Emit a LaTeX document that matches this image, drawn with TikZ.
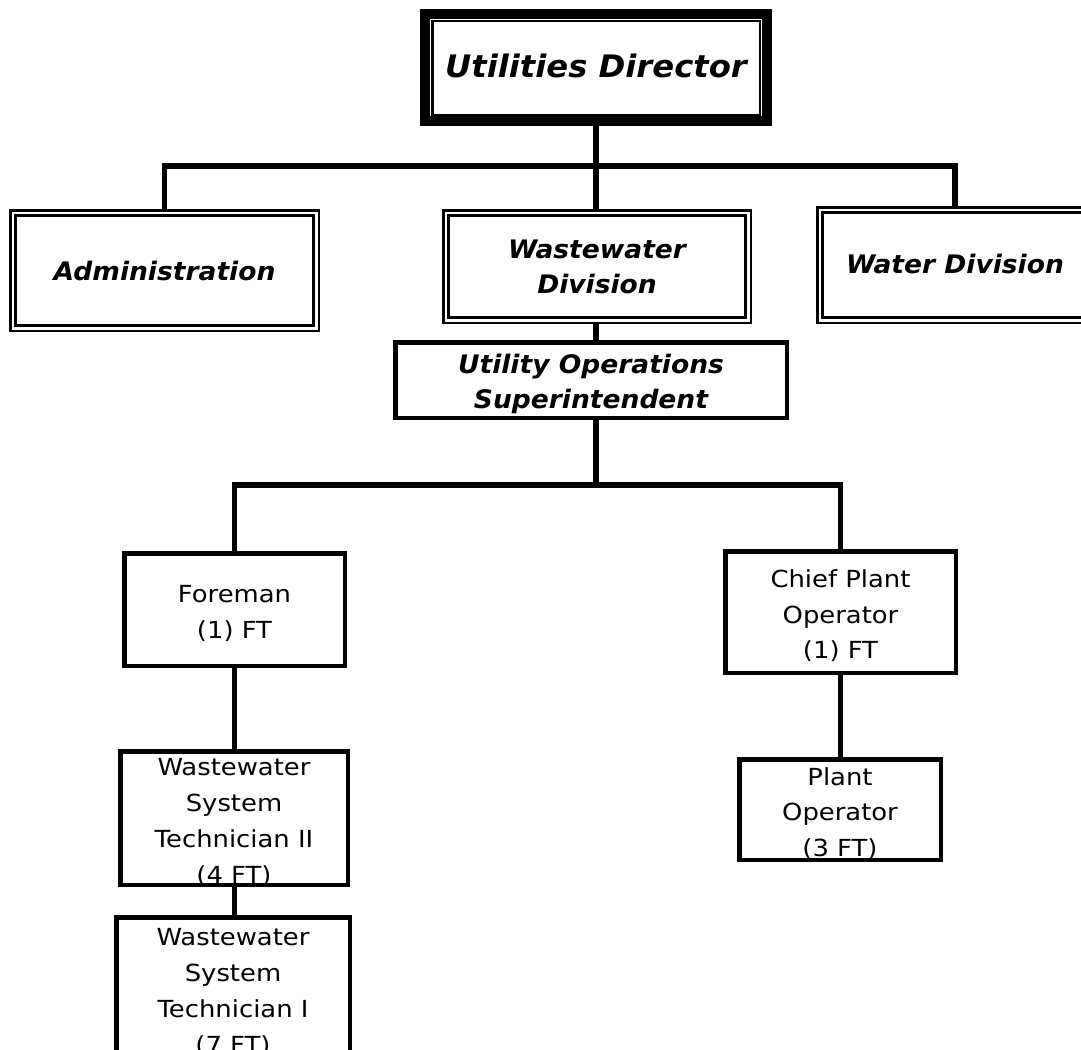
\documentclass[tikz,border=0pt]{standalone}
\usepackage{fontspec}
\setmainfont{DejaVu Sans}
\newfontfamily\regfont[FakeStretch=1.1]{DejaVu Sans}
\newfontfamily\hdfont[FakeStretch=1.04]{DejaVu Sans}
\begin{document}
\begin{tikzpicture}[x=1pt,y=-1pt,
  box/.style={draw=black, line width=4.5pt, rectangle, inner sep=0pt},
  dbox/.style={draw=black, line width=2.5pt, double=white, double distance=2.6pt, rectangle, inner sep=0pt, outer sep=3.8pt},
  topbox/.style={draw=black, line width=10pt, rectangle, inner sep=0pt},
  conn/.style={draw=black, line width=5.5pt},
  hd/.style={font=\hdfont\bfseries\itshape\fontsize{25.5}{35}\selectfont, align=center, inner sep=0pt},
  hdbig/.style={font=\hdfont\bfseries\itshape\fontsize{31}{37}\selectfont, align=center, inner sep=0pt},
  rg/.style={font=\regfont\fontsize{23.5}{35.5}\selectfont, align=center, inner sep=0pt},
  rgw/.style={font=\regfont\fontsize{23.5}{36.2}\selectfont, align=center, inner sep=0pt}]
\useasboundingbox (0,0) rectangle (1081,1049);
\clip (0,0) rectangle (1081,1049);
\fill[white] (0,0) rectangle (1081,1049);

% boxes
\node[topbox, minimum width=342pt, minimum height=107pt] (dir) at (596,67.5) {};
\draw[line width=2.2pt] ([shift={(12.5,12)}]dir.north west) rectangle ([shift={(-12,-11)}]dir.south east);
\node[dbox, minimum width=303.4pt, minimum height=115.4pt] (adm) at (164.5,270.5) {};
\node[dbox, minimum width=302.4pt, minimum height=107.4pt] (wwd) at (597,266.5) {};
\node[dbox, minimum width=270.4pt, minimum height=110.4pt] (wat) at (955,265) {};
\node[box, minimum width=391.5pt, minimum height=75.5pt] (sup) at (591,380) {};
\node[box, minimum width=220.5pt, minimum height=112.5pt] (fore) at (234.5,609.5) {};
\node[box, minimum width=230.5pt, minimum height=121.5pt] (chief) at (840.5,612) {};
\node[box, minimum width=201.5pt, minimum height=100.5pt] (plant) at (840,809.5) {};
\node[box, minimum width=227.5pt, minimum height=133.5pt] (wst2) at (234,818) {};
\node[box, minimum width=233.5pt, minimum height=140.5pt] (wst1) at (233,987.5) {};

% junctions
\coordinate (j1) at (596,166);
\coordinate (j2) at (596,485);

% connectors
\draw[conn] (dir.south) -- (j1);
\draw[conn] (adm.north) |- (j1) -| (wat.north);
\draw[conn] (j1) -- (wwd.north -| j1);
\draw[conn] (wwd.south -| j1) -- (sup.north -| j1);
\draw[conn] (sup.south -| j2) -- (j2);
\draw[conn] (fore.north) |- (j2) -| (chief.north);
\draw[conn] (fore.south) -- (fore.south |- wst2.north);
\draw[conn] (fore.south |- wst2.south) -- (fore.south |- wst1.north);
\draw[conn] (chief.south) -- (chief.south |- plant.north);

% texts (yshift is in canvas units: negative moves down)
\node[hdbig] at ([yshift=1.5]dir.center) {Utilities Director};
\node[hd] at (adm.center) {Administration};
\node[hd] at (wwd.center) {Wastewater\\Division};
\node[hd] at ([yshift=1]wat.center) {Water Division};
\node[hd] at ([yshift=-4]sup.center) {Utility Operations\\Superintendent};
\node[rg] at ([yshift=-4]fore.center) {Foreman\\(1) FT};
\node[rg] at ([yshift=-4]chief.center) {Chief Plant\\Operator\\(1) FT};
\node[rg] at ([yshift=-4]plant.center) {Plant\\Operator\\(3 FT)};
\node[rgw] at ([yshift=-4.5]wst2.center) {Wastewater\\System\\Technician II\\(4 FT)};
\node[rgw] at ([yshift=-5]wst1.center) {Wastewater\\System\\Technician I\\(7 FT)};
\end{tikzpicture}
\end{document}
